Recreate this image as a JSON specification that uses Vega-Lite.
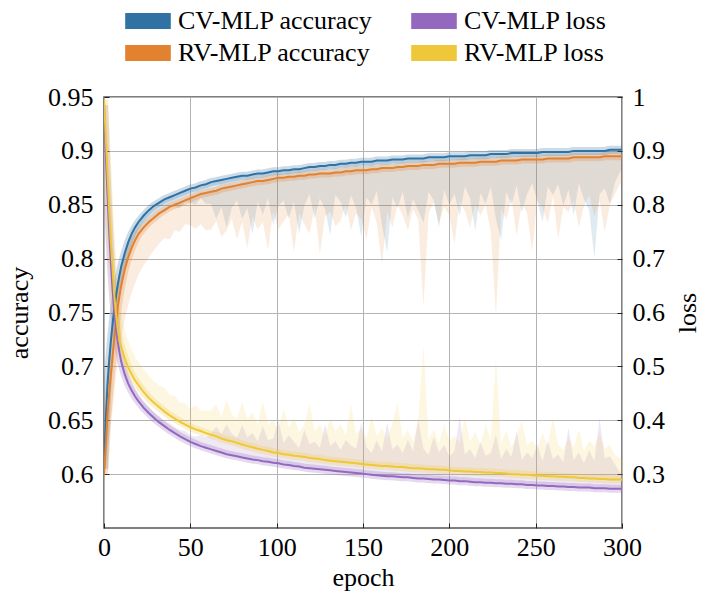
{
  "$schema": "https://vega.github.io/schema/vega-lite/v6.json",
  "width": 518,
  "height": 431,
  "autosize": {"type": "none"},
  "padding": {"left": 104, "top": 97, "right": 79, "bottom": 66},
  "background": "white",
  "config": {
    "font": "\"Liberation Serif\", serif",
    "view": {"stroke": "#555555", "strokeWidth": 1.5},
    "axis": {
      "labelFont": "\"Liberation Serif\", serif", "labelFontSize": 26, "labelColor": "#000000",
      "titleFont": "\"Liberation Serif\", serif", "titleFontSize": 26, "titleFontWeight": "normal", "titleColor": "#000000",
      "gridColor": "#b4b4b4", "gridWidth": 1, "tickColor": "#222222", "tickWidth": 1, "domain": false
    },
    "legend": {
      "labelFont": "\"Liberation Serif\", serif", "labelFontSize": 26, "labelColor": "#000000", "labelLimit": 400
    }
  },
  "data": {"values": [
    {"e":0,"a1":0.605,"a2":0.600,"b1":0.598,"b2":0.588,"l1":0.985,"l2":0.995,"m1":0.990,"m2":1.0},
    {"e":1,"a1":0.650,"a2":0.625,"b1":0.642,"b2":0.605,"l1":0.900,"l2":0.930,"m1":0.915,"m2":0.965},
    {"e":2,"a1":0.682,"a2":0.655,"b1":0.672,"b2":0.625,"l1":0.820,"l2":0.860,"m1":0.840,"m2":0.910},
    {"e":3,"a1":0.705,"a2":0.675,"b1":0.694,"b2":0.635,"l1":0.750,"l2":0.790,"m1":0.770,"m2":0.850},
    {"e":4,"a1":0.724,"a2":0.693,"b1":0.712,"b2":0.648,"l1":0.690,"l2":0.730,"m1":0.712,"m2":0.795},
    {"e":5,"a1":0.740,"a2":0.710,"b1":0.727,"b2":0.660,"l1":0.640,"l2":0.680,"m1":0.660,"m2":0.745},
    {"e":6,"a1":0.754,"a2":0.727,"b1":0.740,"b2":0.677,"l1":0.600,"l2":0.630,"m1":0.620,"m2":0.700},
    {"e":7,"a1":0.766,"a2":0.742,"b1":0.752,"b2":0.692,"l1":0.570,"l2":0.595,"m1":0.588,"m2":0.665},
    {"e":8,"a1":0.776,"a2":0.755,"b1":0.762,"b2":0.705,"l1":0.545,"l2":0.568,"m1":0.562,"m2":0.635},
    {"e":9,"a1":0.785,"a2":0.766,"b1":0.771,"b2":0.717,"l1":0.525,"l2":0.546,"m1":0.541,"m2":0.610},
    {"e":10,"a1":0.793,"a2":0.775,"b1":0.779,"b2":0.727,"l1":0.508,"l2":0.535,"m1":0.523,"m2":0.595},
    {"e":12,"a1":0.805,"a2":0.790,"b1":0.792,"b2":0.744,"l1":0.485,"l2":0.515,"m1":0.499,"m2":0.568},
    {"e":14,"a1":0.815,"a2":0.801,"b1":0.802,"b2":0.757,"l1":0.468,"l2":0.498,"m1":0.481,"m2":0.548},
    {"e":16,"a1":0.823,"a2":0.810,"b1":0.810,"b2":0.768,"l1":0.455,"l2":0.485,"m1":0.467,"m2":0.532},
    {"e":18,"a1":0.829,"a2":0.817,"b1":0.817,"b2":0.777,"l1":0.444,"l2":0.474,"m1":0.456,"m2":0.518},
    {"e":20,"a1":0.834,"a2":0.823,"b1":0.822,"b2":0.785,"l1":0.435,"l2":0.465,"m1":0.447,"m2":0.508},
    {"e":23,"a1":0.840,"a2":0.829,"b1":0.828,"b2":0.794,"l1":0.423,"l2":0.452,"m1":0.434,"m2":0.495},
    {"e":26,"a1":0.845,"a2":0.834,"b1":0.834,"b2":0.801,"l1":0.413,"l2":0.441,"m1":0.424,"m2":0.482},
    {"e":29,"a1":0.849,"a2":0.838,"b1":0.838,"b2":0.808,"l1":0.404,"l2":0.432,"m1":0.415,"m2":0.472},
    {"e":32,"a1":0.852,"a2":0.842,"b1":0.842,"b2":0.814,"l1":0.396,"l2":0.424,"m1":0.408,"m2":0.464},
    {"e":35,"a1":0.855,"a2":0.845,"b1":0.843,"b2":0.819,"l1":0.389,"l2":0.416,"m1":0.399,"m2":0.461},
    {"e":38,"a1":0.857,"a2":0.848,"b1":0.848,"b2":0.818,"l1":0.382,"l2":0.409,"m1":0.395,"m2":0.447},
    {"e":41,"a1":0.859,"a2":0.850,"b1":0.848,"b2":0.826,"l1":0.376,"l2":0.403,"m1":0.387,"m2":0.445},
    {"e":44,"a1":0.861,"a2":0.852,"b1":0.847,"b2":0.825,"l1":0.370,"l2":0.397,"m1":0.382,"m2":0.433},
    {"e":47,"a1":0.863,"a2":0.854,"b1":0.853,"b2":0.832,"l1":0.365,"l2":0.392,"m1":0.380,"m2":0.432},
    {"e":50,"a1":0.865,"a2":0.856,"b1":0.852,"b2":0.831,"l1":0.360,"l2":0.387,"m1":0.372,"m2":0.421},
    {"e":53,"a1":0.866,"a2":0.858,"b1":0.850,"b2":0.828,"l1":0.356,"l2":0.383,"m1":0.370,"m2":0.428},
    {"e":56,"a1":0.868,"a2":0.860,"b1":0.856,"b2":0.832,"l1":0.352,"l2":0.380,"m1":0.372,"m2":0.418},
    {"e":59,"a1":0.869,"a2":0.861,"b1":0.851,"b2":0.826,"l1":0.349,"l2":0.376,"m1":0.367,"m2":0.418},
    {"e":62,"a1":0.871,"a2":0.862,"b1":0.851,"b2":0.827,"l1":0.346,"l2":0.373,"m1":0.376,"m2":0.418},
    {"e":65,"a1":0.872,"a2":0.863,"b1":0.837,"b2":0.835,"l1":0.343,"l2":0.370,"m1":0.388,"m2":0.430},
    {"e":68,"a1":0.873,"a2":0.865,"b1":0.848,"b2":0.820,"l1":0.340,"l2":0.366,"m1":0.375,"m2":0.406},
    {"e":71,"a1":0.874,"a2":0.866,"b1":0.829,"b2":0.826,"l1":0.337,"l2":0.363,"m1":0.392,"m2":0.438},
    {"e":74,"a1":0.875,"a2":0.867,"b1":0.847,"b2":0.837,"l1":0.335,"l2":0.361,"m1":0.375,"m2":0.411},
    {"e":77,"a1":0.876,"a2":0.868,"b1":0.854,"b2":0.818,"l1":0.333,"l2":0.358,"m1":0.368,"m2":0.403},
    {"e":80,"a1":0.877,"a2":0.869,"b1":0.837,"b2":0.834,"l1":0.331,"l2":0.355,"m1":0.391,"m2":0.435},
    {"e":83,"a1":0.877,"a2":0.870,"b1":0.847,"b2":0.810,"l1":0.329,"l2":0.352,"m1":0.369,"m2":0.402},
    {"e":86,"a1":0.878,"a2":0.871,"b1":0.823,"b2":0.839,"l1":0.327,"l2":0.350,"m1":0.377,"m2":0.415},
    {"e":89,"a1":0.879,"a2":0.872,"b1":0.853,"b2":0.827,"l1":0.326,"l2":0.347,"m1":0.361,"m2":0.392},
    {"e":92,"a1":0.879,"a2":0.872,"b1":0.841,"b2":0.834,"l1":0.324,"l2":0.345,"m1":0.389,"m2":0.435},
    {"e":95,"a1":0.880,"a2":0.873,"b1":0.856,"b2":0.808,"l1":0.323,"l2":0.343,"m1":0.363,"m2":0.393},
    {"e":98,"a1":0.881,"a2":0.874,"b1":0.831,"b2":0.844,"l1":0.321,"l2":0.340,"m1":0.366,"m2":0.400},
    {"e":101,"a1":0.881,"a2":0.875,"b1":0.849,"b2":0.827,"l1":0.320,"l2":0.339,"m1":0.400,"m2":0.384},
    {"e":104,"a1":0.882,"a2":0.875,"b1":0.854,"b2":0.835,"l1":0.318,"l2":0.337,"m1":0.358,"m2":0.422},
    {"e":107,"a1":0.882,"a2":0.876,"b1":0.837,"b2":0.841,"l1":0.317,"l2":0.336,"m1":0.372,"m2":0.386},
    {"e":110,"a1":0.883,"a2":0.876,"b1":0.853,"b2":0.806,"l1":0.315,"l2":0.334,"m1":0.360,"m2":0.404},
    {"e":113,"a1":0.883,"a2":0.877,"b1":0.823,"b2":0.842,"l1":0.314,"l2":0.333,"m1":0.349,"m2":0.378},
    {"e":116,"a1":0.884,"a2":0.877,"b1":0.849,"b2":0.832,"l1":0.312,"l2":0.332,"m1":0.382,"m2":0.392},
    {"e":119,"a1":0.885,"a2":0.878,"b1":0.860,"b2":0.823,"l1":0.311,"l2":0.330,"m1":0.356,"m2":0.430},
    {"e":122,"a1":0.885,"a2":0.878,"b1":0.837,"b2":0.848,"l1":0.310,"l2":0.329,"m1":0.360,"m2":0.379},
    {"e":125,"a1":0.886,"a2":0.879,"b1":0.856,"b2":0.804,"l1":0.309,"l2":0.328,"m1":0.349,"m2":0.393},
    {"e":128,"a1":0.886,"a2":0.879,"b1":0.846,"b2":0.839,"l1":0.308,"l2":0.326,"m1":0.393,"m2":0.371},
    {"e":131,"a1":0.887,"a2":0.879,"b1":0.822,"b2":0.844,"l1":0.307,"l2":0.325,"m1":0.352,"m2":0.405},
    {"e":134,"a1":0.887,"a2":0.880,"b1":0.859,"b2":0.830,"l1":0.306,"l2":0.324,"m1":0.361,"m2":0.379},
    {"e":137,"a1":0.888,"a2":0.880,"b1":0.853,"b2":0.835,"l1":0.305,"l2":0.323,"m1":0.345,"m2":0.393},
    {"e":140,"a1":0.888,"a2":0.881,"b1":0.838,"b2":0.851,"l1":0.304,"l2":0.322,"m1":0.364,"m2":0.372},
    {"e":143,"a1":0.889,"a2":0.881,"b1":0.859,"b2":0.826,"l1":0.303,"l2":0.321,"m1":0.353,"m2":0.431},
    {"e":146,"a1":0.889,"a2":0.882,"b1":0.847,"b2":0.842,"l1":0.302,"l2":0.320,"m1":0.347,"m2":0.375},
    {"e":149,"a1":0.890,"a2":0.882,"b1":0.820,"b2":0.837,"l1":0.301,"l2":0.319,"m1":0.396,"m2":0.384},
    {"e":152,"a1":0.890,"a2":0.882,"b1":0.857,"b2":0.817,"l1":0.300,"l2":0.318,"m1":0.350,"m2":0.368},
    {"e":155,"a1":0.890,"a2":0.883,"b1":0.850,"b2":0.848,"l1":0.299,"l2":0.317,"m1":0.339,"m2":0.407},
    {"e":158,"a1":0.891,"a2":0.883,"b1":0.863,"b2":0.833,"l1":0.298,"l2":0.316,"m1":0.363,"m2":0.371},
    {"e":161,"a1":0.891,"a2":0.884,"b1":0.831,"b2":0.794,"l1":0.297,"l2":0.315,"m1":0.342,"m2":0.385},
    {"e":164,"a1":0.891,"a2":0.884,"b1":0.806,"b2":0.844,"l1":0.296,"l2":0.315,"m1":0.396,"m2":0.365},
    {"e":167,"a1":0.892,"a2":0.884,"b1":0.857,"b2":0.829,"l1":0.296,"l2":0.314,"m1":0.346,"m2":0.394},
    {"e":170,"a1":0.892,"a2":0.885,"b1":0.847,"b2":0.850,"l1":0.295,"l2":0.313,"m1":0.355,"m2":0.433},
    {"e":173,"a1":0.892,"a2":0.885,"b1":0.862,"b2":0.840,"l1":0.294,"l2":0.313,"m1":0.339,"m2":0.368},
    {"e":176,"a1":0.893,"a2":0.886,"b1":0.838,"b2":0.826,"l1":0.294,"l2":0.312,"m1":0.364,"m2":0.382},
    {"e":179,"a1":0.893,"a2":0.886,"b1":0.855,"b2":0.846,"l1":0.293,"l2":0.311,"m1":0.343,"m2":0.361},
    {"e":182,"a1":0.893,"a2":0.886,"b1":0.845,"b2":0.836,"l1":0.292,"l2":0.311,"m1":0.402,"m2":0.401},
    {"e":185,"a1":0.893,"a2":0.887,"b1":0.833,"b2":0.755,"l1":0.292,"l2":0.310,"m1":0.347,"m2":0.540},
    {"e":188,"a1":0.894,"a2":0.887,"b1":0.862,"b2":0.842,"l1":0.291,"l2":0.309,"m1":0.336,"m2":0.364},
    {"e":191,"a1":0.894,"a2":0.887,"b1":0.854,"b2":0.852,"l1":0.290,"l2":0.309,"m1":0.370,"m2":0.384},
    {"e":194,"a1":0.894,"a2":0.888,"b1":0.829,"b2":0.833,"l1":0.290,"l2":0.308,"m1":0.340,"m2":0.358},
    {"e":197,"a1":0.894,"a2":0.888,"b1":0.864,"b2":0.848,"l1":0.289,"l2":0.308,"m1":0.354,"m2":0.393},
    {"e":200,"a1":0.895,"a2":0.888,"b1":0.850,"b2":0.840,"l1":0.288,"l2":0.307,"m1":0.333,"m2":0.362},
    {"e":203,"a1":0.895,"a2":0.888,"b1":0.860,"b2":0.813,"l1":0.288,"l2":0.306,"m1":0.343,"m2":0.371},
    {"e":206,"a1":0.895,"a2":0.889,"b1":0.840,"b2":0.854,"l1":0.287,"l2":0.306,"m1":0.407,"m2":0.356},
    {"e":209,"a1":0.895,"a2":0.889,"b1":0.867,"b2":0.844,"l1":0.287,"l2":0.305,"m1":0.337,"m2":0.405},
    {"e":212,"a1":0.896,"a2":0.889,"b1":0.856,"b2":0.829,"l1":0.286,"l2":0.305,"m1":0.346,"m2":0.360},
    {"e":215,"a1":0.896,"a2":0.889,"b1":0.826,"b2":0.851,"l1":0.285,"l2":0.304,"m1":0.330,"m2":0.379},
    {"e":218,"a1":0.896,"a2":0.890,"b1":0.861,"b2":0.840,"l1":0.285,"l2":0.304,"m1":0.360,"m2":0.354},
    {"e":221,"a1":0.896,"a2":0.890,"b1":0.851,"b2":0.850,"l1":0.284,"l2":0.303,"m1":0.334,"m2":0.393},
    {"e":224,"a1":0.897,"a2":0.890,"b1":0.867,"b2":0.825,"l1":0.284,"l2":0.303,"m1":0.339,"m2":0.363},
    {"e":227,"a1":0.897,"a2":0.890,"b1":0.837,"b2":0.747,"l1":0.283,"l2":0.302,"m1":0.373,"m2":0.517},
    {"e":230,"a1":0.897,"a2":0.891,"b1":0.817,"b2":0.846,"l1":0.283,"l2":0.302,"m1":0.328,"m2":0.357},
    {"e":233,"a1":0.897,"a2":0.891,"b1":0.862,"b2":0.836,"l1":0.282,"l2":0.301,"m1":0.347,"m2":0.381},
    {"e":236,"a1":0.898,"a2":0.891,"b1":0.850,"b2":0.856,"l1":0.282,"l2":0.300,"m1":0.332,"m2":0.350},
    {"e":239,"a1":0.898,"a2":0.891,"b1":0.868,"b2":0.821,"l1":0.281,"l2":0.300,"m1":0.381,"m2":0.370},
    {"e":242,"a1":0.898,"a2":0.892,"b1":0.843,"b2":0.852,"l1":0.281,"l2":0.299,"m1":0.326,"m2":0.399},
    {"e":245,"a1":0.898,"a2":0.892,"b1":0.860,"b2":0.842,"l1":0.280,"l2":0.299,"m1":0.340,"m2":0.354},
    {"e":248,"a1":0.898,"a2":0.892,"b1":0.870,"b2":0.807,"l1":0.280,"l2":0.298,"m1":0.330,"m2":0.363},
    {"e":251,"a1":0.898,"a2":0.892,"b1":0.853,"b2":0.854,"l1":0.279,"l2":0.297,"m1":0.354,"m2":0.347},
    {"e":254,"a1":0.899,"a2":0.892,"b1":0.834,"b2":0.847,"l1":0.279,"l2":0.297,"m1":0.324,"m2":0.377},
    {"e":257,"a1":0.899,"a2":0.893,"b1":0.867,"b2":0.833,"l1":0.278,"l2":0.296,"m1":0.363,"m2":0.351},
    {"e":260,"a1":0.899,"a2":0.893,"b1":0.859,"b2":0.858,"l1":0.278,"l2":0.296,"m1":0.328,"m2":0.406},
    {"e":263,"a1":0.899,"a2":0.893,"b1":0.869,"b2":0.818,"l1":0.277,"l2":0.295,"m1":0.337,"m2":0.355},
    {"e":266,"a1":0.899,"a2":0.893,"b1":0.849,"b2":0.848,"l1":0.277,"l2":0.295,"m1":0.322,"m2":0.345},
    {"e":269,"a1":0.899,"a2":0.893,"b1":0.864,"b2":0.843,"l1":0.276,"l2":0.294,"m1":0.386,"m2":0.369},
    {"e":272,"a1":0.900,"a2":0.894,"b1":0.840,"b2":0.854,"l1":0.276,"l2":0.294,"m1":0.326,"m2":0.349},
    {"e":275,"a1":0.900,"a2":0.894,"b1":0.870,"b2":0.829,"l1":0.275,"l2":0.293,"m1":0.340,"m2":0.383},
    {"e":278,"a1":0.900,"a2":0.894,"b1":0.855,"b2":0.849,"l1":0.275,"l2":0.293,"m1":0.320,"m2":0.343},
    {"e":281,"a1":0.900,"a2":0.894,"b1":0.845,"b2":0.859,"l1":0.275,"l2":0.292,"m1":0.345,"m2":0.362},
    {"e":284,"a1":0.900,"a2":0.894,"b1":0.800,"b2":0.839,"l1":0.274,"l2":0.292,"m1":0.324,"m2":0.352},
    {"e":287,"a1":0.900,"a2":0.894,"b1":0.860,"b2":0.854,"l1":0.274,"l2":0.291,"m1":0.404,"m2":0.376},
    {"e":290,"a1":0.900,"a2":0.895,"b1":0.865,"b2":0.825,"l1":0.274,"l2":0.291,"m1":0.329,"m2":0.346},
    {"e":293,"a1":0.901,"a2":0.895,"b1":0.851,"b2":0.850,"l1":0.273,"l2":0.290,"m1":0.333,"m2":0.355},
    {"e":296,"a1":0.901,"a2":0.895,"b1":0.871,"b2":0.860,"l1":0.273,"l2":0.290,"m1":0.318,"m2":0.335},
    {"e":299,"a1":0.901,"a2":0.895,"b1":0.881,"b2":0.870,"l1":0.273,"l2":0.290,"m1":0.303,"m2":0.330},
    {"e":300,"a1":0.901,"a2":0.895,"b1":0.881,"b2":0.870,"l1":0.272,"l2":0.289,"m1":0.303,"m2":0.330}
  ]},
  "encoding": {
    "x": {
      "field": "e", "type": "quantitative",
      "scale": {"domain": [0, 300], "nice": false, "zero": false},
      "axis": {
        "values": [0, 50, 100, 150, 200, 250, 300], "title": "epoch", "grid": true,
        "tickSize": -5, "labelPadding": 11, "titlePadding": 4, "labelFlush": false
      }
    }
  },
  "layer": [
    {
      "mark": {"type": "area", "opacity": 0.15, "clip": true},
      "encoding": {
        "y": {"field": "b1", "type": "quantitative", "scale": {"domain": [0.55, 0.95], "nice": false, "zero": false},
          "axis": {"orient": "left", "values": [0.6, 0.65, 0.7, 0.75, 0.8, 0.85, 0.9, 0.95], "format": ".2~f",
            "title": "accuracy", "grid": true, "tickSize": -5, "labelPadding": 16, "titlePadding": 15, "labelFlush": false}},
        "y2": {"field": "a1"},
        "color": {"datum": "CV-MLP accuracy",
          "scale": {"domain": ["CV-MLP accuracy", "RV-MLP accuracy", "CV-MLP loss", "RV-MLP loss"],
                    "range": ["#2f72a3", "#e2812e", "#9468bf", "#efc83a"]},
          "legend": {"title": null, "orient": "none", "legendX": 25, "legendY": -95, "columns": 2,
            "symbolType": "M-1.2,-0.42H1.2V0.42H-1.2Z", "symbolSize": 1444, "symbolOpacity": 1,
            "symbolStrokeWidth": 0, "labelOffset": 11, "columnPadding": 38, "rowPadding": 0, "padding": 0,
            "encode": {"symbols": {"update": {"opacity": {"value": 1}, "fillOpacity": {"value": 1}}}}}}
      }
    },
    {
      "mark": {"type": "area", "opacity": 0.15, "clip": true},
      "encoding": {
        "y": {"field": "b2", "type": "quantitative", "scale": {"domain": [0.55, 0.95], "nice": false, "zero": false}, "axis": null},
        "y2": {"field": "a2"},
        "color": {"datum": "RV-MLP accuracy"}
      }
    },
    {
      "mark": {"type": "area", "opacity": 0.15, "clip": true},
      "encoding": {
        "y": {"field": "l1", "type": "quantitative", "scale": {"domain": [0.2, 1], "nice": false, "zero": false},
          "axis": {"orient": "right", "values": [0.3, 0.4, 0.5, 0.6, 0.7, 0.8, 0.9, 1], "format": ".1~f",
            "title": "loss", "titleAngle": 270, "titleBaseline": "top", "grid": false, "tickSize": -5, "labelPadding": 15, "titlePadding": 10, "labelFlush": false}},
        "y2": {"field": "m1"},
        "color": {"datum": "CV-MLP loss"}
      }
    },
    {
      "mark": {"type": "area", "opacity": 0.15, "clip": true},
      "encoding": {
        "y": {"field": "l2", "type": "quantitative", "scale": {"domain": [0.2, 1], "nice": false, "zero": false}, "axis": null},
        "y2": {"field": "m2"},
        "color": {"datum": "RV-MLP loss"}
      }
    },
    {
      "mark": {"type": "line", "strokeWidth": 8, "opacity": 0.25, "clip": true},
      "encoding": {
        "y": {"field": "a1", "type": "quantitative", "scale": {"domain": [0.55, 0.95], "nice": false, "zero": false}, "axis": null},
        "color": {"datum": "CV-MLP accuracy"}
      }
    },
    {
      "mark": {"type": "line", "strokeWidth": 8, "opacity": 0.25, "clip": true},
      "encoding": {
        "y": {"field": "a2", "type": "quantitative", "scale": {"domain": [0.55, 0.95], "nice": false, "zero": false}, "axis": null},
        "color": {"datum": "RV-MLP accuracy"}
      }
    },
    {
      "mark": {"type": "line", "strokeWidth": 8, "opacity": 0.25, "clip": true},
      "encoding": {
        "y": {"field": "l1", "type": "quantitative", "scale": {"domain": [0.2, 1], "nice": false, "zero": false}, "axis": null},
        "color": {"datum": "CV-MLP loss"}
      }
    },
    {
      "mark": {"type": "line", "strokeWidth": 8, "opacity": 0.25, "clip": true},
      "encoding": {
        "y": {"field": "l2", "type": "quantitative", "scale": {"domain": [0.2, 1], "nice": false, "zero": false}, "axis": null},
        "color": {"datum": "RV-MLP loss"}
      }
    },
    {
      "mark": {"type": "line", "strokeWidth": 2, "clip": true},
      "encoding": {
        "y": {"field": "a1", "type": "quantitative", "scale": {"domain": [0.55, 0.95], "nice": false, "zero": false}, "axis": null},
        "color": {"datum": "CV-MLP accuracy"}
      }
    },
    {
      "mark": {"type": "line", "strokeWidth": 2, "clip": true},
      "encoding": {
        "y": {"field": "a2", "type": "quantitative", "scale": {"domain": [0.55, 0.95], "nice": false, "zero": false}, "axis": null},
        "color": {"datum": "RV-MLP accuracy"}
      }
    },
    {
      "mark": {"type": "line", "strokeWidth": 2, "clip": true},
      "encoding": {
        "y": {"field": "l1", "type": "quantitative", "scale": {"domain": [0.2, 1], "nice": false, "zero": false}, "axis": null},
        "color": {"datum": "CV-MLP loss"}
      }
    },
    {
      "mark": {"type": "line", "strokeWidth": 2, "clip": true},
      "encoding": {
        "y": {"field": "l2", "type": "quantitative", "scale": {"domain": [0.2, 1], "nice": false, "zero": false}, "axis": null},
        "color": {"datum": "RV-MLP loss"}
      }
    }
  ],
  "resolve": {"scale": {"y": "independent"}}
}
